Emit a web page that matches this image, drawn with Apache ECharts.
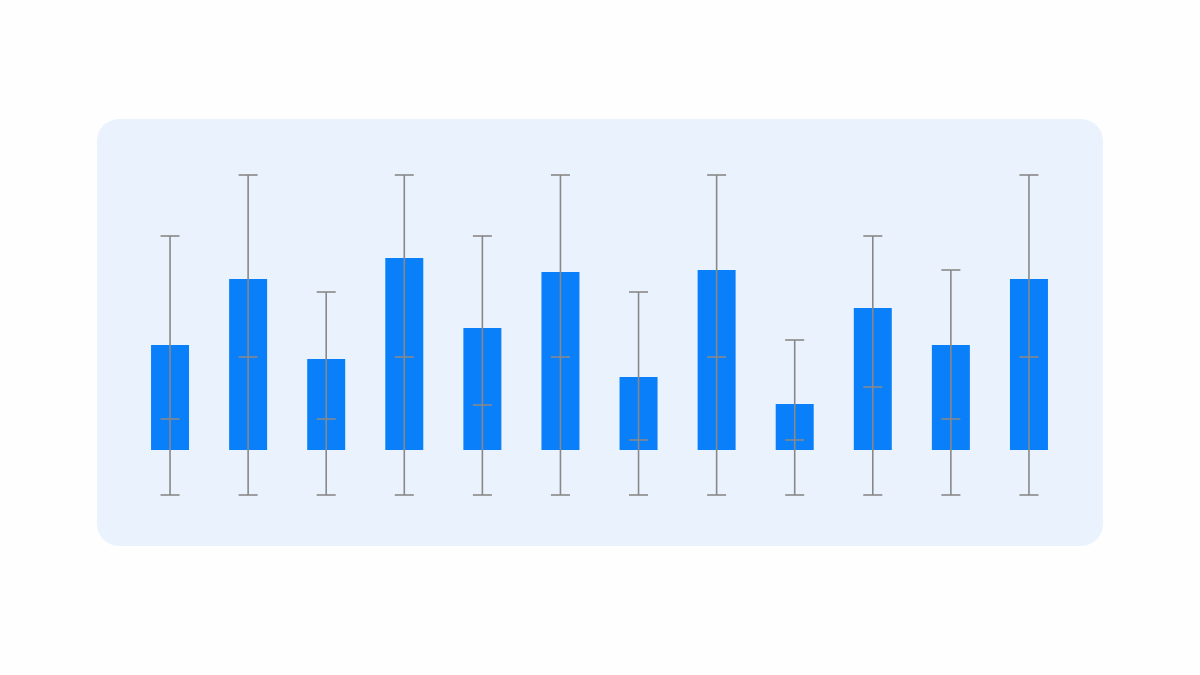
<!DOCTYPE html>
<html>
<head>
<meta charset="utf-8">
<script src="https://cdn.jsdelivr.net/npm/echarts@6/dist/echarts.min.js"></script>
<style>
html,body{margin:0;padding:0;background:#fdfefd;}
#c{width:1200px;height:675px;}
</style>
</head>
<body>
<div id="c"></div>
<script>
var categories = ['A','B','C','D','E','F','G','H','I','J','K','L'];
var barValues = [105, 171, 91, 192, 122, 178, 73, 180, 46, 142, 105, 171];
var upperValues = [214, 275, 158, 275, 214, 275, 158, 275, 110, 214, 180, 275];
var midValues = [31, 93, 31, 93, 45, 93, 10, 93, 10, 63, 31, 93];
var lowerValues = [-45, -45, -45, -45, -45, -45, -45, -45, -45, -45, -45, -45];

var errData = categories.map(function (c, i) {
  return [i, lowerValues[i], midValues[i], upperValues[i]];
});

var chart = echarts.init(document.getElementById('c'));
chart.setOption({
  backgroundColor: '#fdfefd',
  animation: false,
  graphic: [{
    type: 'rect', z: -10, silent: true,
    shape: { x: 97, y: 119, width: 1006, height: 427, r: 22 },
    style: { fill: '#eaf3fd' }
  }],
  grid: { left: 131, right: 132, top: 150, bottom: 165 },
  xAxis: {
    type: 'category', data: categories, show: false,
    axisLine: { show: false }, axisTick: { show: false }, axisLabel: { show: false }
  },
  yAxis: {
    type: 'value', min: -60, max: 300, show: false,
    splitLine: { show: false }
  },
  series: [{
    type: 'bar',
    data: barValues,
    barWidth: 38,
    itemStyle: { color: '#0a7ffa' },
    z: 2
  }, {
    type: 'custom',
    z: 5,
    data: errData,
    renderItem: function (params, api) {
      var i = api.value(0);
      var lo = api.coord([i, api.value(1)]);
      var mi = api.coord([i, api.value(2)]);
      var hi = api.coord([i, api.value(3)]);
      var hw = 9.5;
      var st = { stroke: '#888888', lineWidth: 1.6 };
      return {
        type: 'group',
        children: [
          { type: 'line', shape: { x1: hi[0], y1: hi[1], x2: lo[0], y2: lo[1] }, style: st },
          { type: 'line', shape: { x1: hi[0] - hw, y1: hi[1], x2: hi[0] + hw, y2: hi[1] }, style: st },
          { type: 'line', shape: { x1: mi[0] - hw, y1: mi[1], x2: mi[0] + hw, y2: mi[1] }, style: st },
          { type: 'line', shape: { x1: lo[0] - hw, y1: lo[1], x2: lo[0] + hw, y2: lo[1] }, style: st }
        ]
      };
    }
  }]
});
</script>
</body>
</html>
